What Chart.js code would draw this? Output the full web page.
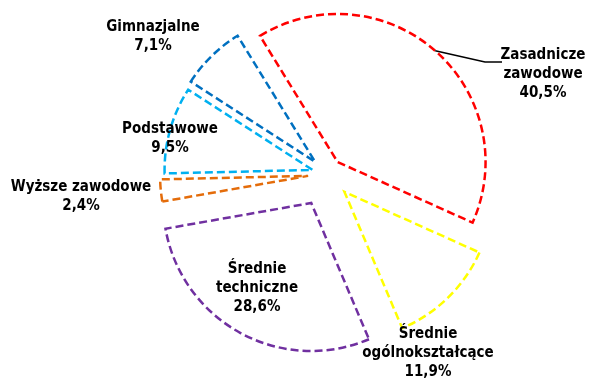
<!DOCTYPE html>
<html>
<head>
<meta charset="utf-8">
<script src="https://cdn.jsdelivr.net/npm/chart.js@4/dist/chart.umd.min.js"></script>
<style>
  html, body { margin: 0; padding: 0; background: #ffffff; }
  #wrap { width: 590px; height: 379px; }
</style>
</head>
<body>
<div id="wrap"><canvas id="c" width="590" height="379"></canvas></div>
<script>
// ---- data ----
const categories = [
  ["Zasadnicze", "zawodowe"],
  ["Średnie", "ogólnokształcące"],
  ["Średnie", "techniczne"],
  ["Wyższe zawodowe"],
  ["Podstawowe"],
  ["Gimnazjalne"]
];
const shares = [40.5, 11.9, 28.6, 2.4, 9.5, 7.1];

// ---- styles ----
const sliceColors = ["#FF0000", "#FFFF00", "#7030A0", "#E46C0A", "#00B0F0", "#0070C0"];
const explode = [16, 25, 33, 19, 15, 17];          // px shift of each slice along its mid angle
const labelAnchor = [                               // label block centre, relative to pie centre
  [216, -100], [101, 179], [-70, 114.5], [-246, 23], [-157, -35.5], [-174, -137.5]
];
const lineHeight = 19;

const explodePlugin = {
  id: 'explode',
  afterDatasetsUpdate(chart) {
    const meta = chart.getDatasetMeta(0);
    meta.data.forEach((arc, i) => {
      if (arc._shifted) return;
      const mid = (arc.startAngle + arc.endAngle) / 2;
      arc.x += Math.cos(mid) * explode[i];
      arc.y += Math.sin(mid) * explode[i];
      arc._shifted = true;
    });
  }
};

const labelPlugin = {
  id: 'labels',
  afterDraw(chart) {
    const ctx = chart.ctx;
    const meta = chart.getDatasetMeta(0);
    const ca = chart.chartArea;
    const cx = (ca.left + ca.right) / 2;
    const cy = (ca.top + ca.bottom) / 2;
    ctx.save();
    ctx.font = 'bold 15px "DejaVu Sans Condensed", "DejaVu Sans", sans-serif';
    ctx.fillStyle = '#000000';
    ctx.textAlign = 'center';
    ctx.textBaseline = 'middle';
    categories.forEach((lines, i) => {
      const all = lines.concat([shares[i].toFixed(1).replace('.', ',') + '%']);
      const [dx, dy] = labelAnchor[i];
      const x0 = cx + dx;
      const y0 = cy + dy - (all.length - 1) * lineHeight / 2;
      all.forEach((t, k) => ctx.fillText(t, x0, y0 + k * lineHeight));
    });
    // leader line for the first slice
    const a = meta.data[0];
    const mid = (a.startAngle + a.endAngle) / 2;
    const sx = a.x + Math.cos(mid) * a.outerRadius;
    const sy = a.y + Math.sin(mid) * a.outerRadius;
    ctx.strokeStyle = '#000000';
    ctx.lineWidth = 1.5;
    ctx.beginPath();
    ctx.moveTo(sx, sy);
    ctx.lineTo(cx + 158, cy - 112);
    ctx.lineTo(cx + 175, cy - 112);
    ctx.stroke();
    ctx.restore();
  }
};

new Chart(document.getElementById('c'), {
  type: 'pie',
  data: {
    labels: categories,
    datasets: [{
      data: shares,
      backgroundColor: 'rgba(255,255,255,0)',
      borderColor: sliceColors,
      borderWidth: 2.5,
      borderDash: [8, 4],
      borderJoinStyle: 'miter',
      hoverOffset: 0
    }]
  },
  options: {
    responsive: false,
    animation: false,
    rotation: -31.6,
    radius: 148,
    layout: { padding: { left: 64, right: 0, top: 0, bottom: 31 } },
    plugins: { legend: { display: false }, tooltip: { enabled: false } },
    events: []
  },
  plugins: [explodePlugin, labelPlugin]
});
</script>
</body>
</html>
